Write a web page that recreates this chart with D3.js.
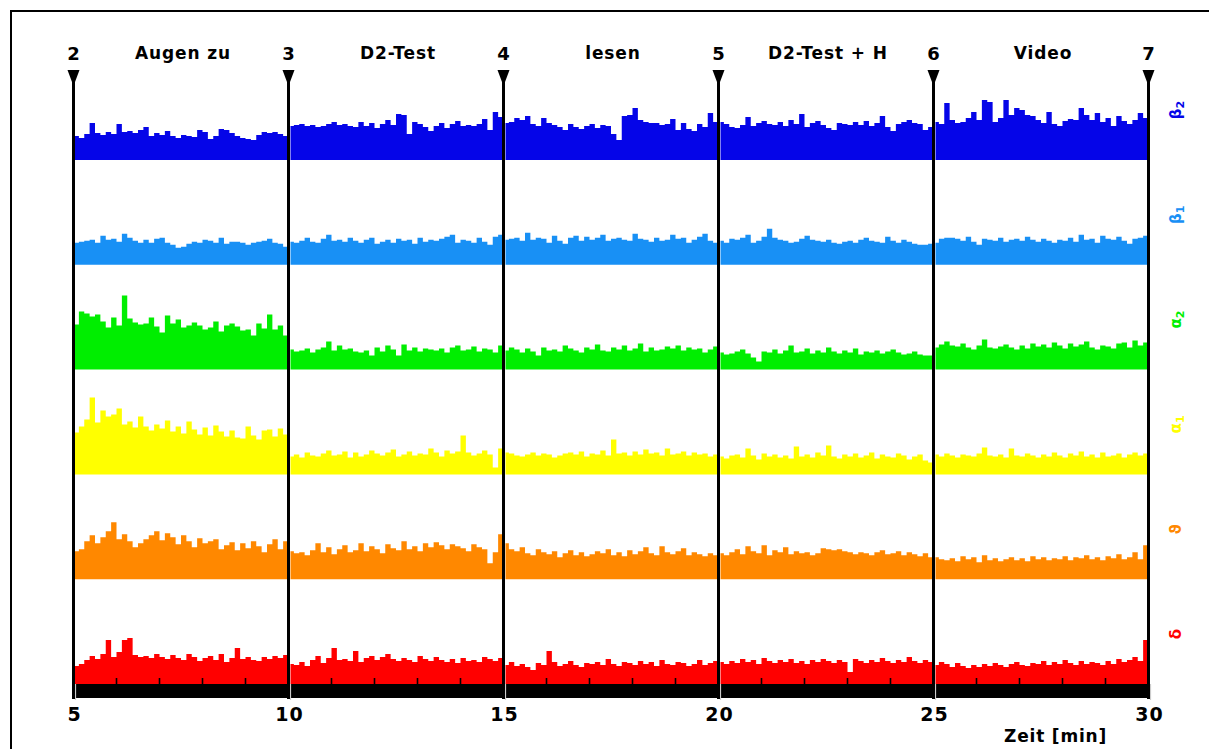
<!DOCTYPE html>
<html>
<head>
<meta charset="utf-8">
<script src="https://cdn.jsdelivr.net/npm/d3@7"></script>
<style>
  body { margin: 0; background: #fff; }
  svg text { font-family: "DejaVu Sans", Verdana, sans-serif; font-weight: bold; }
</style>
</head>
<body>
<svg id="chart" width="1209" height="749"></svg>
<script>
// markers / phases
var markerTimes = [5, 10, 15, 20, 25, 30];
var markerLabels = ["2", "3", "4", "5", "6", "7"];
var phaseLabels = ["Augen zu", "D2-Test", "lesen", "D2-Test + H", "Video"];
var tickValues = [5, 10, 15, 20, 25, 30];

// bands, top to bottom
var bandNames = ["β", "β", "α", "α", "ϑ", "δ"];
var bandSubs = ["2", "1", "2", "1", "", ""];
var bandColors = ["#0505e8", "#1890f5", "#00ee00", "#ffff00", "#ff8800", "#ff0000"];

// band amplitudes, 40 bins per 5-minute phase
var beta2 = [
  [24,22,26,37,27,25,28,26,36,28,29,27,30,33,24,27,25,29,24,22,25,24,23,30,28,21,24,31,30,27,24,22,21,20,25,28,27,28,26,24],
  [34,35,36,34,35,33,34,36,38,35,36,34,33,38,34,37,32,36,40,35,46,45,26,38,36,33,29,34,37,32,36,39,34,35,34,36,41,30,48,43],
  [37,38,42,40,44,36,34,42,37,35,33,30,36,33,31,34,36,32,35,34,26,20,44,45,52,40,38,37,37,35,36,41,30,37,31,29,36,33,47,38],
  [38,36,33,32,35,43,34,37,39,36,35,38,34,40,36,46,33,37,39,35,32,30,37,36,35,38,35,39,34,37,44,33,29,36,38,40,37,36,30,33],
  [38,36,57,40,37,38,42,48,40,60,58,38,42,60,45,52,50,45,44,40,37,48,36,34,39,41,40,52,45,40,47,38,42,34,44,39,36,40,47,42]
];
var beta1 = [
  [22,23,24,25,22,29,25,26,23,31,27,24,22,25,22,26,27,22,20,17,18,21,23,22,25,24,22,27,21,23,23,22,20,22,23,24,26,22,21,18],
  [23,22,24,27,23,22,26,30,24,25,23,27,24,22,25,27,21,23,25,22,26,24,25,21,27,23,25,24,26,28,30,22,25,24,22,27,23,20,28,30],
  [25,26,27,24,32,25,27,26,22,29,24,21,27,29,24,28,25,27,30,24,26,27,25,24,31,26,25,23,27,24,25,30,26,27,22,25,28,31,24,22],
  [24,22,26,25,27,30,22,24,28,36,27,25,24,22,23,26,29,25,24,23,25,22,21,23,24,22,25,27,24,23,22,28,24,22,25,23,21,20,20,21],
  [22,26,27,27,26,24,28,23,20,26,25,24,27,23,25,26,24,28,25,23,26,24,22,25,24,27,23,30,25,26,22,29,26,25,28,24,21,26,27,29]
];
var alpha2 = [
  [45,58,56,53,55,48,42,52,44,74,51,47,45,46,52,43,37,54,46,50,42,44,47,44,40,42,48,38,44,46,43,39,40,34,46,41,55,40,44,34],
  [20,18,19,21,17,20,22,28,19,24,20,21,18,17,19,14,22,18,24,20,14,25,19,22,18,21,20,19,21,17,22,24,19,20,23,18,21,20,17,24],
  [19,22,20,17,21,18,14,22,19,20,18,24,21,19,17,22,20,25,19,18,22,20,24,19,21,26,18,22,19,20,23,21,24,19,22,20,21,17,20,23],
  [17,15,16,18,20,16,12,8,18,17,20,16,19,24,17,18,21,16,19,17,22,18,16,19,17,21,15,18,17,19,16,18,20,17,15,16,18,15,14,14],
  [22,25,28,24,23,26,22,20,24,30,22,21,23,25,22,20,24,21,26,23,25,22,27,24,21,26,23,25,28,22,20,24,23,21,26,27,22,29,24,27]
];
var alpha1 = [
  [42,48,55,77,52,64,58,60,66,50,53,47,58,48,44,50,46,54,43,48,41,53,45,40,47,39,49,43,38,44,37,36,48,39,35,44,45,38,46,40],
  [18,20,17,22,19,18,21,24,19,20,23,17,22,18,20,24,21,19,22,25,18,20,23,19,21,20,26,22,18,24,21,23,39,22,19,21,24,20,7,26],
  [22,21,19,18,20,22,19,21,20,17,19,21,22,20,23,18,21,20,24,19,35,21,22,19,23,20,25,21,22,19,26,20,21,23,19,22,20,21,18,20],
  [18,16,19,20,17,26,19,15,21,18,20,17,19,16,28,18,20,17,22,19,29,18,16,20,18,21,17,19,22,16,20,18,17,21,19,15,18,20,14,12],
  [20,18,21,19,17,20,19,18,21,27,19,18,20,17,26,19,18,21,19,17,20,18,22,19,17,21,19,23,18,20,17,22,18,19,21,17,20,22,19,21]
];
var theta = [
  [28,30,38,44,36,42,48,57,40,45,38,32,36,40,44,48,39,46,42,35,44,38,32,41,36,38,40,30,34,37,29,36,31,38,33,27,35,40,30,38],
  [28,26,27,24,29,36,27,32,25,30,34,27,29,36,28,33,30,26,35,31,29,38,30,33,28,36,32,37,34,30,35,33,31,28,35,32,30,16,27,45],
  [36,30,28,32,26,24,30,27,25,28,22,26,29,24,27,23,25,28,26,30,24,27,23,29,25,28,32,26,24,33,27,25,28,31,24,27,25,23,26,24],
  [26,24,27,30,25,33,28,26,34,24,29,27,32,25,28,26,27,24,26,31,30,29,30,28,27,25,27,26,24,27,29,25,26,28,24,27,25,23,26,22],
  [22,20,19,21,18,23,20,22,17,24,19,21,18,20,22,19,21,18,23,20,22,19,21,20,23,19,22,21,24,20,22,19,23,21,25,20,22,27,20,34]
];
var delta = [
  [18,20,24,28,25,30,44,27,32,44,46,29,27,28,26,30,27,25,29,26,24,30,27,23,26,28,24,30,22,26,36,25,27,24,23,27,25,28,26,29],
  [20,19,22,18,24,28,21,26,36,24,25,23,33,22,26,28,24,27,30,25,23,26,24,22,28,25,23,27,24,22,25,21,26,23,24,22,27,25,23,26],
  [19,22,18,20,17,14,21,19,33,22,18,20,23,19,17,21,20,22,19,25,20,18,22,21,19,23,20,22,18,24,20,19,22,21,18,20,24,19,21,23],
  [22,20,23,21,25,22,24,20,26,23,21,24,22,25,21,23,20,24,22,25,23,21,24,22,12,25,23,21,24,22,26,23,21,24,22,27,23,21,24,22],
  [19,22,20,17,21,18,16,19,17,20,18,21,19,17,20,22,19,18,21,20,23,19,22,20,24,21,19,23,20,22,21,19,23,20,25,22,24,27,23,44]
];
var bandData = [beta2, beta1, alpha2, alpha1, theta, delta];

var svg = d3.select("#chart");

// frame (cut off at right and bottom like the source)
svg.append("rect")
  .attr("x", 11).attr("y", 11)
  .attr("width", 1230).attr("height", 760)
  .attr("fill", "none").attr("stroke", "#000").attr("stroke-width", 2);

var x = d3.scaleLinear().domain([5, 30]).range([73.5, 1148.5]);
var base = d3.scalePoint().domain(d3.range(6)).range([160, 684]);
var amp = d3.scaleLinear().domain([0, 100]).range([0, 100]);

var binsPerPhase = 40;

var bands = svg.append("g").attr("class", "bands");

bandData.forEach(function(phases, b){
  var y0 = base(b);
  var area = d3.area()
    .x(function(d){ return x(d.t) + (d.first ? 2 : 0); })
    .y0(y0)
    .y1(function(d){ return y0 - amp(d.v); })
    .curve(d3.curveStepAfter);

  phases.forEach(function(vals, p){
    var start = markerTimes[p];
    var step = (markerTimes[p + 1] - start) / binsPerPhase;
    var pts = vals.map(function(v, i){ return {t: start + i * step, v: v, first: i === 0 && p > 0}; });
    pts.push({t: start + binsPerPhase * step, v: vals[vals.length - 1]});
    bands.append("path")
      .datum(pts)
      .attr("d", area)
      .attr("fill", bandColors[b]);
  });

  // band label, rotated
  var lab = svg.append("text")
    .attr("transform", "translate(1181," + (y0 - 50) + ") rotate(-90)")
    .attr("text-anchor", "middle")
    .attr("fill", bandColors[b])
    .attr("font-size", 15);
  lab.append("tspan").text(bandNames[b]);
  if (bandSubs[b]) lab.append("tspan").attr("font-size", 11).attr("dy", 3).text(bandSubs[b]);
});

// minor ticks (every minute)
var minor = d3.range(5, 31).filter(function(d){ return d % 5 !== 0; });
svg.append("g")
  .selectAll("line")
  .data(minor)
  .enter()
  .append("line")
  .attr("x1", function(d){ return x(d); })
  .attr("x2", function(d){ return x(d); })
  .attr("y1", 684).attr("y2", 678)
  .attr("stroke", "#000").attr("stroke-width", 1.6);

// black axis bar
svg.append("rect")
  .attr("x", x(5)).attr("y", 684)
  .attr("width", x(30) - x(5)).attr("height", 14)
  .attr("fill", "#000");

// axis: light major ticks in the bar + labels
var axis = d3.axisBottom(x).tickValues(tickValues).tickSize(16).tickPadding(8).tickFormat(d3.format("d"));
var gAxis = svg.append("g").attr("transform", "translate(1.5,684)").call(axis);
gAxis.select(".domain").remove();
gAxis.selectAll(".tick line").attr("stroke", "#ccc").attr("stroke-width", 1.2);
gAxis.selectAll(".tick text")
  .attr("fill", "#000")
  .attr("font-size", 19)
  .attr("font-family", "DejaVu Sans, sans-serif")
  .attr("font-weight", "bold")
  .attr("letter-spacing", 1)
  .attr("dx", -1);

svg.append("text")
  .attr("x", 1107).attr("y", 742)
  .attr("text-anchor", "end")
  .attr("font-size", 17)
  .attr("letter-spacing", 0.8)
  .text("Zeit [min]");

// marker lines and triangles
var markers = svg.append("g").attr("class", "markers");
markers.selectAll("line")
  .data(markerTimes)
  .enter()
  .append("line")
  .attr("x1", function(d){ return x(d); })
  .attr("x2", function(d){ return x(d); })
  .attr("y1", 72).attr("y2", 699)
  .attr("stroke", "#000").attr("stroke-width", 3);

markers.selectAll("path")
  .data(markerTimes)
  .enter()
  .append("path")
  .attr("d", function(d){ var cx = x(d); return "M" + (cx - 6) + ",70L" + (cx + 6) + ",70L" + cx + ",86Z"; })
  .attr("fill", "#000");

markers.selectAll("text")
  .data(markerTimes)
  .enter()
  .append("text")
  .attr("x", function(d){ return x(d); })
  .attr("y", 60)
  .attr("text-anchor", "middle")
  .attr("font-size", 18)
  .text(function(d, i){ return markerLabels[i]; });

svg.append("g")
  .selectAll("text")
  .data(phaseLabels)
  .enter()
  .append("text")
  .attr("x", function(d, i){ return (x(markerTimes[i]) + x(markerTimes[i + 1])) / 2 + 2; })
  .attr("y", 59)
  .attr("text-anchor", "middle")
  .attr("font-size", 17)
  .attr("letter-spacing", 0.9)
  .text(function(d){ return d; });
</script>
</body>
</html>
